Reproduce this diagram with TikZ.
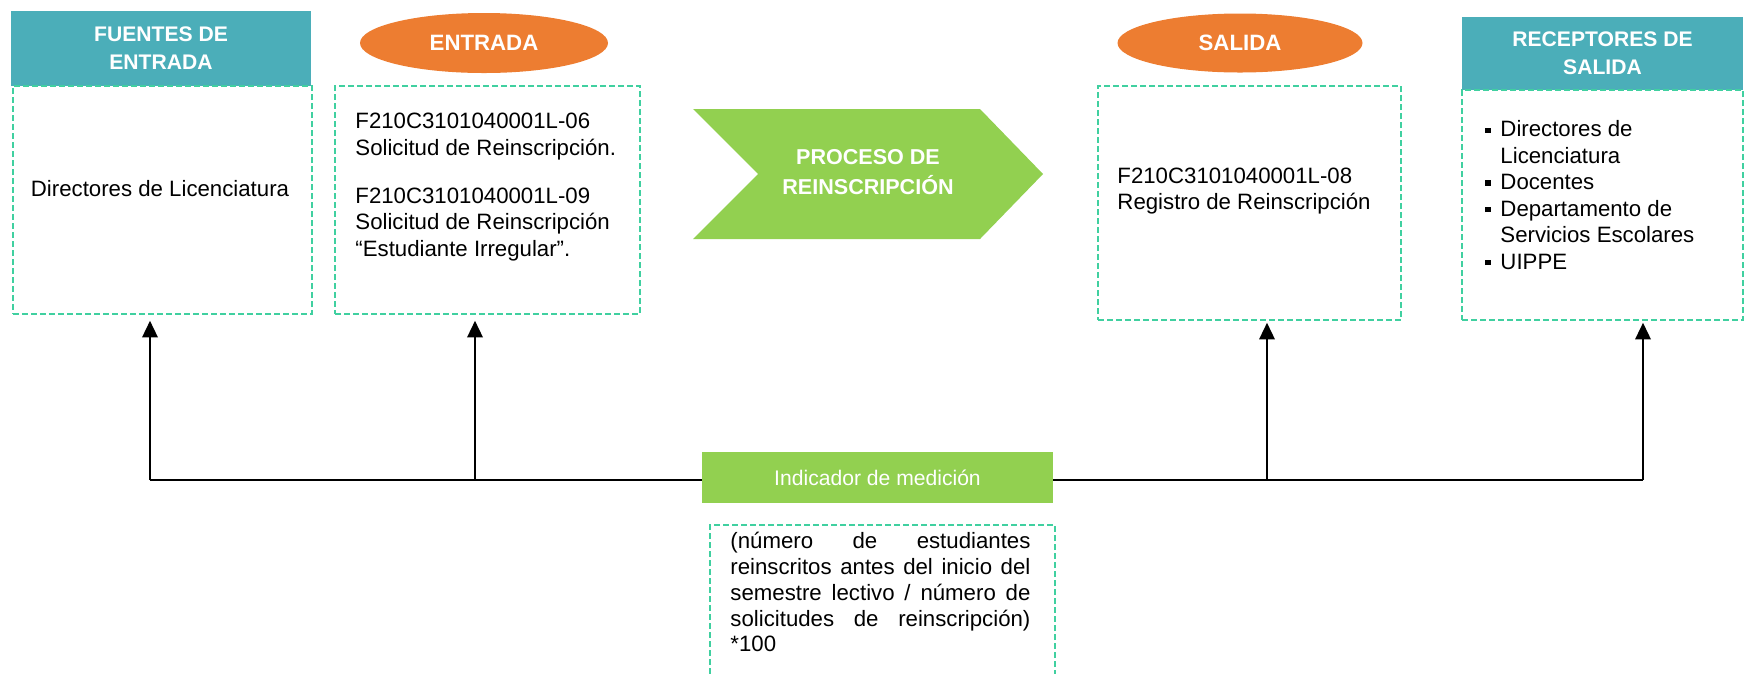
\documentclass[tikz,border=0pt]{standalone}
\usepackage{fontspec}
\setmainfont{Liberation Sans}
\usetikzlibrary{shapes.geometric,arrows.meta}
\definecolor{headteal}{RGB}{75,174,185}
\definecolor{ovalorange}{RGB}{237,125,49}
\definecolor{procgreen}{RGB}{146,208,80}
\definecolor{dashmint}{RGB}{64,208,160}
\tikzset{
  head/.style={fill=headteal,inner sep=0pt,text=white,align=center,font=\fontsize{9.5}{12.6}\selectfont\bfseries},
  oval/.style={ellipse,fill=ovalorange,inner sep=0pt,text=white,font=\fontsize{10}{12}\selectfont\bfseries},
  dbox/.style={draw=dashmint,line width=0.7pt,dash pattern=on 2.7pt off 1.35pt,inner sep=0pt},
  body/.style={inner sep=0pt,align=left,font=\fontsize{10}{12}\selectfont},
  arr/.style={line width=0.8pt,-{Triangle[length=7.5pt,width=7pt]}}
}
\newcommand{\sqb}{\makebox[6.75pt][l]{\raisebox{1.8pt}{\rule{2.4pt}{2.4pt}}}}
\begin{document}
\begin{tikzpicture}[x=0.45pt,y=-0.45pt]
\clip (0,0) rectangle (1745,673);
% cabeceras
\node[head,minimum width=135pt,minimum height=33.75pt] (fhead) at (161,48.5) {FUENTES DE\\ENTRADA};
\node[head,minimum width=126.45pt,minimum height=32.85pt] (rhead) at (1602.5,53.5) {RECEPTORES DE\\SALIDA};
\node[oval,minimum width=111.6pt,minimum height=27pt] (eoval) at (484,43) {ENTRADA};
\node[oval,minimum width=110.25pt,minimum height=26.55pt] (soval) at (1240,43) {SALIDA};
% cajas
\node[dbox,minimum width=134.55pt,minimum height=102.6pt] (fbox) at (162.5,200) {};
\node[dbox,minimum width=137.25pt,minimum height=102.6pt] (ebox) at (487.5,200) {};
\node[dbox,minimum width=136.35pt,minimum height=105.3pt] (sbox) at (1249.5,203) {};
\node[dbox,minimum width=126.45pt,minimum height=103.5pt] (rbox) at (1602.5,205) {};
\node[dbox,minimum width=155.25pt,minimum height=78.75pt] (mbox) at (882.5,612.5) {};
% textos
\node[body] (ftxt) at (160,189) {Directores de Licenciatura};
\node[body,anchor=west] (etxt) at (355,187) {F210C3101040001L-06\\Solicitud de Reinscripción.\\[9.6pt]F210C3101040001L-09\\Solicitud de Reinscripción\\“Estudiante Irregular”.};
\node[body,anchor=west] (stxt) at (1117,191) {F210C3101040001L-08\\Registro de Reinscripción};
\node[body,anchor=west,font=\fontsize{10}{11.9}\selectfont] (rtxt) at (1485,195) {\sqb Directores de\\\hphantom{\sqb}Licenciatura\\\sqb Docentes\\\sqb Departamento de\\\hphantom{\sqb}Servicios Escolares\\\sqb UIPPE};
\node[body,anchor=north west,font=\fontsize{10}{11.6}\selectfont] (mtxt) at (730,532) {\makebox[135pt][s]{(número de estudiantes}\\\makebox[135pt][s]{reinscritos antes del inicio del}\\\makebox[135pt][s]{semestre lectivo / número de}\\\makebox[135pt][s]{solicitudes de reinscripción)}\\*100};
% proceso
\fill[procgreen] (693,109) -- (980,109) -- (1043,174) -- (980,239) -- (693,239) -- (758,174) -- cycle;
\node[text=white,align=center,inner sep=0pt,font=\fontsize{9.7}{13.5}\selectfont\bfseries] (proc) at (868,172) {PROCESO DE\\REINSCRIPCIÓN};
% indicador
\node[fill=procgreen,inner sep=0pt,text=white,minimum width=157.95pt,minimum height=22.95pt,font=\fontsize{9.5}{12}\selectfont] (ind) at (877.5,477.5) {Indicador de medición};
\coordinate (l1) at (150,480);
\coordinate (l2) at (475,480);
\coordinate (l3) at (1267,480);
\coordinate (l4) at (1643,480);
\draw[line width=0.8pt] (l1) -- (l1 -| ind.west);
\draw[line width=0.8pt] (l4) -- (l4 -| ind.east);
\draw[arr,shorten >=2.7pt] (l1) -- (l1 |- fbox.south);
\draw[arr,shorten >=2.7pt] (l2) -- (l2 |- ebox.south);
\draw[arr,shorten >=0.9pt] (l3) -- (l3 |- sbox.south);
\draw[arr,shorten >=0.9pt] (l4) -- (l4 |- rbox.south);
\end{tikzpicture}
\end{document}
